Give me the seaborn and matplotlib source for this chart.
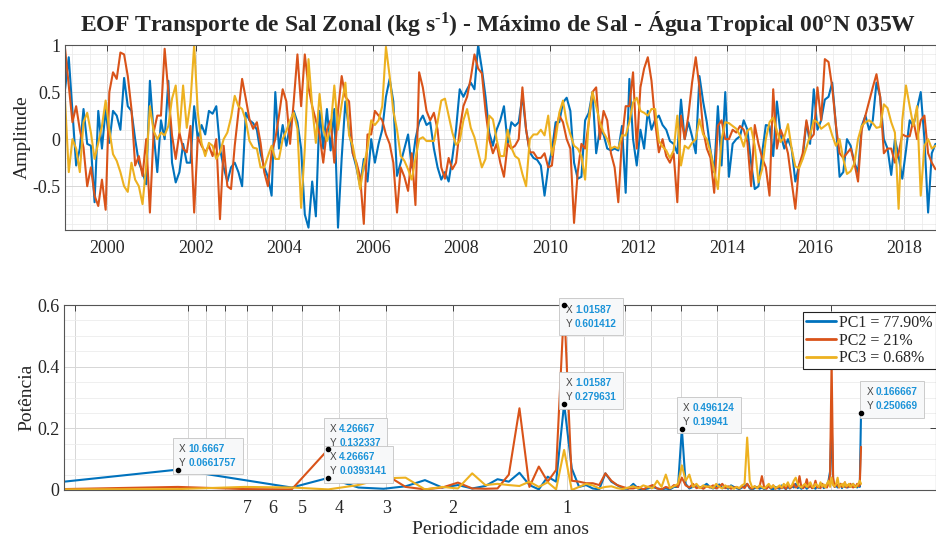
import numpy as np
import pandas as pd
import matplotlib
matplotlib.use("Agg")
import matplotlib.pyplot as plt
import seaborn as sns
from matplotlib.ticker import FixedLocator, FixedFormatter, MultipleLocator, NullLocator
from matplotlib.offsetbox import TextArea, HPacker, AnnotationBbox
from matplotlib.lines import Line2D

# ---------------- data: monthly EOF amplitudes (Jan 1999 .. Sep 2018) ----------------
start_year = 1999
pc1 = [
    0.53, 0.87, 0.30, -0.28, -0.10, 0.32, -0.05, -0.07, -0.67, 0.30, -0.10, 0.32,
    -0.04, 0.30, 0.25, 0.10, 0.65, 0.35, 0.30, 0.00, -0.25, -0.35, -0.48, 0.62,
    0.07, -0.35, 0.20, 0.00, 0.62, -0.25, -0.46, -0.35, -0.05, -0.25, -0.25, 0.35,
    0.00, 0.15, 0.05, 0.30, 0.27, 0.35, -0.10, -0.30, -0.45, -0.30, -0.25, -0.35,
    -0.50, 0.28, 0.20, 0.17, 0.10, -0.15, -0.30, -0.40, -0.60, 0.50, -0.10, 0.15,
    -0.07, 0.15, 0.30, 0.18, -0.10, -0.80, -0.94, -0.45, -0.82, 0.30, -0.10, 0.32,
    -0.12, 0.32, -0.94, -0.20, 0.40, 0.10, -0.15, -0.30, -0.50, -0.21, -0.45, 0.00,
    -0.25, -0.05, 0.10, 0.45, 0.64, 0.40, -0.39, -0.25, -0.10, 0.05, -0.30, 0.00,
    0.18, 0.25, 0.15, 0.18, -0.10, -0.30, -0.43, -0.35, -0.45, -0.20, 0.10, 0.53,
    0.45, 0.53, 0.60, 0.53, 1.00, 0.75, 0.45, 0.07, -0.07, 0.10, 0.20, 0.35,
    -0.05, 0.18, 0.14, 0.18, 0.46, 0.10, -0.14, -0.20, -0.22, -0.28, -0.60, -0.30,
    -0.12, 0.18, 0.18, 0.39, 0.44, 0.30, -0.25, -0.42, -0.40, 0.20, 0.28, 0.50,
    -0.15, 0.10, 0.05, -0.10, -0.12, -0.10, -0.12, 0.14, -0.57, 0.64, 0.00, -0.28,
    0.10, -0.10, 0.30, 0.10, 0.21, 0.25, 0.15, 0.10, -0.02, -0.05, -0.15, 0.42,
    0.00, 0.18, 0.03, -0.15, 0.67, 0.40, 0.18, -0.12, -0.35, 0.35, -0.28, 0.50,
    -0.40, -0.05, 0.00, 0.03, 0.20, 0.10, -0.25, -0.53, -0.50, -0.15, 0.15, 0.14,
    -0.18, 0.40, 0.05, -0.10, 0.00, -0.10, -0.45, -0.28, -0.20, 0.18, -0.05, 0.53,
    0.10, 0.20, 0.42, 0.45, 0.60, 0.15, -0.40, -0.35, 0.00, -0.07, -0.25, -0.35,
    0.14, 0.25, 0.10, 0.20, 0.60, 0.45, 0.00, -0.10, -0.38, 0.00, -0.18, -0.42,
    -0.12, 0.20, 0.14, 0.32, 0.50, 0.00, -0.78, -0.15, -0.05,
]
pc2 = [
    0.96, 0.57, 0.18, 0.35, 0.10, -0.09, -0.50, -0.30, -0.60, -0.71, -0.43, -0.75,
    0.50, 0.71, 0.64, 0.92, 0.90, 0.67, 0.32, -0.28, -0.18, -0.39, 0.00, -0.78,
    0.07, 0.25, 0.25, 0.96, 0.50, 0.04, -0.21, 0.07, -0.10, -0.14, 0.14, -0.78,
    0.02, -0.07, -0.14, -0.07, -0.18, 0.00, -0.85, -0.07, -0.50, -0.53, -0.07, 0.28,
    0.64, 0.43, 0.21, 0.11, 0.18, -0.04, -0.35, -0.50, -0.14, 0.00, 0.25, 0.53,
    0.40, -0.05, 0.40, 0.90, 0.35, 0.90, 0.55, 0.35, 0.20, 0.05, -0.25, 0.10,
    0.20, -0.25, 0.30, 0.67, 0.45, 0.40, -0.15, -0.25, -0.40, -0.90, 0.05, 0.05,
    0.30, 0.25, 0.20, 0.05, -0.05, -0.25, -0.78, -0.30, -0.40, -0.55, -0.15, -0.70,
    0.71, 0.55, 0.30, 0.20, 0.28, 0.10, -0.30, -0.42, -0.20, -0.32, -0.25, 0.10,
    0.35, 0.45, 0.65, 0.90, 0.75, 0.70, 0.30, 0.00, -0.15, -0.05, -0.25, -0.40,
    -0.05, -0.10, -0.07, 0.00, 0.55, 0.10, -0.14, -0.14, -0.20, -0.20, -0.15, -0.30,
    -0.28, 0.10, 0.25, 0.18, 0.00, -0.10, -0.89, -0.35, -0.05, -0.10, 0.18, 0.50,
    0.55, 0.00, 0.30, 0.20, -0.15, -0.30, -0.67, 0.00, 0.35, 0.35, 0.71, -0.10,
    0.55, 0.75, 0.87, 0.62, 0.18, -0.14, 0.00, -0.18, -0.25, -0.15, -0.67, 0.25,
    0.00, 0.25, 0.60, 0.87, 0.55, 0.10, -0.10, -0.20, -0.57, 0.14, 0.20, 0.00,
    0.00, 0.10, 0.07, 0.14, 0.10, -0.03, -0.50, 0.15, -0.05, -0.20, -0.30, -0.60,
    0.53, -0.10, 0.10, 0.00, -0.15, -0.45, -0.74, -0.28, -0.15, 0.20, 0.00, 0.05,
    0.55, 0.20, 0.85, 0.82, 0.55, 0.15, -0.15, -0.20, -0.15, -0.10, -0.25, -0.45,
    0.10, 0.25, 0.40, 0.55, 0.69, 0.45, -0.15, -0.10, -0.10, -0.25, -0.15, 0.05,
    0.03, 0.03, 0.20, 0.00, 0.20, 0.25, -0.15, -0.25, -0.32,
]
pc3 = [
    0.40, -0.35, 0.00, -0.10, -0.35, 0.18, 0.28, 0.07, -0.21, -0.04, 0.14, 0.41,
    0.10, -0.16, -0.23, -0.35, -0.50, -0.56, -0.25, -0.43, -0.50, -0.69, -0.28, 0.35,
    0.09, 0.00, 0.07, 0.04, 0.14, 0.43, 0.57, 0.07, 0.57, 0.12, 0.39, 1.00,
    0.28, -0.04, -0.18, -0.04, -0.07, -0.21, -0.14, 0.00, 0.07, 0.23, 0.46, 0.35,
    0.32, 0.20, -0.02, -0.09, -0.10, -0.30, -0.30, -0.18, -0.07, -0.21, -0.21, 0.00,
    0.09, 0.20, 0.28, 0.11, -0.73, -0.10, 0.85, 0.35, -0.04, 0.48, 0.10, -0.02,
    0.12, 0.57, 0.10, 0.37, 0.60, 0.04, -0.07, -0.28, -0.53, -0.28, -0.10, 0.20,
    0.15, 0.20, 0.35, 0.98, 0.67, 0.30, 0.10, -0.18, -0.23, -0.32, -0.43, -0.21,
    0.00, 0.02, -0.02, -0.02, -0.02, 0.18, 0.41, 0.43, 0.25, 0.07, -0.06, -0.02,
    0.20, 0.32, 0.12, 0.02, -0.14, -0.30, -0.21, 0.25, 0.21, 0.00, -0.18, -0.18,
    0.10, -0.09, -0.18, -0.21, -0.37, -0.50, 0.00, 0.05, 0.05, 0.10, 0.04, 0.25,
    -0.17, 0.00, 0.28, 0.41, 0.18, 0.05, -0.07, -0.10, -0.18, -0.43, 0.21, 0.50,
    0.35, 0.18, 0.07, 0.00, -0.10, -0.08, -0.10, 0.04, 0.04, 0.18, 0.39, 0.44,
    0.30, 0.28, 0.25, 0.32, 0.32, -0.02, -0.08, -0.12, -0.20, -0.12, 0.25, -0.28,
    -0.07, -0.10, -0.04, 0.00, 0.21, 0.05, 0.00, -0.14, -0.34, -0.53, 0.00, 0.18,
    0.17, 0.14, 0.11, 0.04, -0.08, 0.09, 0.12, -0.07, -0.46, -0.32, 0.00, 0.18,
    0.23, 0.09, -0.03, 0.02, 0.16, -0.10, -0.29, -0.31, -0.21, -0.09, 0.04, 0.20,
    0.18, 0.11, 0.14, 0.17, 0.04, -0.07, 0.00, -0.21, -0.37, -0.34, -0.26, 0.00,
    0.14, 0.18, 0.20, 0.17, 0.12, 0.13, 0.37, 0.33, 0.18, 0.07, -0.74, 0.20,
    0.57, 0.35, 0.14, 0.35, -0.60, -0.07, 0.00, -0.10, -0.07,
]

# ---------------- data: periodogram power, harmonics k = 1..128 of a 256-month FFT ----------------
n_fft = 256
pow1 = [
    0.027, 0.0661757, 0.032, 0.008, 0.0393141, 0.008, 0.004, 0.012, 0.032, 0.008,
    0.016, 0.005, 0.013, 0.035, 0.027, 0.056, 0.016, 0.002, 0.043, 0.027,
    0.279631, 0.07, 0.01, 0.016, 0.005, 0.002, 0.054, 0.027, 0.016, 0.005,
    0.004, 0.02, 0.004, 0.002, 0.005, 0.01, 0.005, 0.002, 0.005, 0.002,
    0.01, 0.01, 0.19941, 0.02, 0.005, 0.01, 0.015, 0.008, 0.012, 0.02,
    0.01, 0.005, 0.012, 0.018, 0.006, 0.01, 0.004, 0.015, 0.01, 0.006,
    0.003, 0.008, 0.012, 0.02, 0.005, 0.002, 0.006, 0.01, 0.004, 0.008,
    0.003, 0.007, 0.012, 0.004, 0.002, 0.01, 0.006, 0.004, 0.015, 0.008,
    0.003, 0.01, 0.005, 0.012, 0.008, 0.02, 0.006, 0.01, 0.004, 0.008,
    0.012, 0.004, 0.01, 0.015, 0.006, 0.009, 0.004, 0.012, 0.007, 0.01,
    0.02, 0.006, 0.01, 0.015, 0.03, 0.06, 0.23, 0.03, 0.01, 0.015,
    0.008, 0.012, 0.02, 0.006, 0.015, 0.01, 0.012, 0.008, 0.018, 0.01,
    0.015, 0.02, 0.01, 0.012, 0.008, 0.015, 0.01, 0.250669,
]
pow2 = [
    0.003, 0.01, 0.003, 0.002, 0.132337, 0.02, 0.054, 0.01, 0.002, 0.008,
    0.024, 0.005, 0.004, 0.005, 0.05, 0.265, 0.01, 0.076, 0.027, 0.065,
    0.601412, 0.03, 0.027, 0.022, 0.022, 0.016, 0.054, 0.03, 0.016, 0.01,
    0.005, 0.005, 0.01, 0.002, 0.01, 0.016, 0.005, 0.002, 0.01, 0.005,
    0.016, 0.01, 0.04, 0.015, 0.008, 0.02, 0.006, 0.01, 0.004, 0.012,
    0.008, 0.015, 0.005, 0.01, 0.02, 0.006, 0.012, 0.004, 0.008, 0.01,
    0.005, 0.012, 0.006, 0.02, 0.008, 0.004, 0.012, 0.006, 0.01, 0.045,
    0.008, 0.004, 0.012, 0.006, 0.015, 0.004, 0.008, 0.01, 0.006, 0.012,
    0.004, 0.018, 0.006, 0.01, 0.02, 0.008, 0.012, 0.045, 0.01, 0.006,
    0.012, 0.035, 0.008, 0.015, 0.006, 0.01, 0.03, 0.008, 0.012, 0.006,
    0.02, 0.01, 0.015, 0.008, 0.02, 0.05, 0.42, 0.04, 0.01, 0.02,
    0.015, 0.008, 0.02, 0.01, 0.012, 0.025, 0.008, 0.015, 0.01, 0.02,
    0.012, 0.008, 0.015, 0.01, 0.02, 0.012, 0.015, 0.14,
]
pow3 = [
    0.002, 0.003, 0.01, 0.008, 0.002, 0.016, 0.038, 0.04, 0.002, 0.01,
    0.005, 0.054, 0.016, 0.02, 0.016, 0.013, 0.027, 0.01, 0.025, 0.002,
    0.13, 0.0, 0.01, 0.02, 0.015, 0.005, 0.01, 0.012, 0.006, 0.003,
    0.008, 0.012, 0.005, 0.015, 0.01, 0.006, 0.03, 0.01, 0.05, 0.006,
    0.012, 0.02, 0.08, 0.03, 0.05, 0.01, 0.02, 0.006, 0.015, 0.01,
    0.012, 0.006, 0.02, 0.01, 0.005, 0.015, 0.008, 0.012, 0.004, 0.01,
    0.006, 0.015, 0.02, 0.17, 0.03, 0.008, 0.012, 0.006, 0.015, 0.01,
    0.005, 0.012, 0.02, 0.008, 0.015, 0.006, 0.01, 0.015, 0.008, 0.02,
    0.012, 0.025, 0.01, 0.015, 0.03, 0.04, 0.02, 0.012, 0.008, 0.015,
    0.02, 0.01, 0.015, 0.025, 0.012, 0.008, 0.02, 0.015, 0.01, 0.025,
    0.012, 0.018, 0.008, 0.02, 0.03, 0.01, 0.04, 0.015, 0.012, 0.02,
    0.04, 0.01, 0.015, 0.02, 0.01, 0.025, 0.012, 0.015, 0.02, 0.01,
    0.015, 0.02, 0.012, 0.01, 0.015, 0.02, 0.03, 0.02,
]

series_names = ["PC1", "PC2", "PC3"]
legend_labels = ["PC1 = 77.90%", "PC2 = 21%", "PC3 = 0.68%"]
colors = ["#0072BD", "#D95319", "#EDB120"]

year_ticks = [2000, 2002, 2004, 2006, 2008, 2010, 2012, 2014, 2016, 2018]
amp_ticks = [-0.5, 0, 0.5, 1]
amp_labels = ["-0.5", "0", "0.5", "1"]
period_ticks = [20, 10, 9, 8, 7, 6, 5, 4, 3, 2, 1, 0.9, 0.8, 0.7, 0.6, 0.5, 0.4, 0.3, 0.2]
period_labels = ["", "", "", "", "7", "6", "5", "4", "3", "2", "1",
                 "", "", "", "", "", "", "", ""]
pow_ticks = [0, 0.2, 0.4, 0.6]
pow_labels = ["0", "0.2", "0.4", "0.6"]

# data tips: (series index, harmonic k, anchor alignment, offset in points)
tips = [
    (0, 2, (0, 0), (1, 1)),
    (1, 5, (0, 0), (1, 1)),
    (0, 5, (0, 0), (1, 1)),
    (1, 21, (0, 1), (1, 0)),
    (0, 21, (0, 0), (1, 1)),
    (0, 43, (0, 0), (1, 1)),
    (0, 128, (0, 0), (4, 1)),
]

# ---------------- tables ----------------
n_months = len(pc1)
months = np.arange(n_months)
time = start_year + (months + 0.5) / 12.0
df_ts = pd.concat([
    pd.DataFrame({"time": time, "amp": vals, "PC": name})
    for name, vals in zip(series_names, [pc1, pc2, pc3])
], ignore_index=True)

k = np.arange(1, len(pow1) + 1)
period = n_fft / (12.0 * k)
pows = [pow1, pow2, pow3]
df_p = pd.concat([
    pd.DataFrame({"period": period, "power": vals, "PC": name})
    for name, vals in zip(series_names, pows)
], ignore_index=True)

# ---------------- style ----------------
sns.set_style("white")
plt.rcParams["font.family"] = ["Liberation Serif", "DejaVu Serif"]
plt.rcParams["mathtext.fontset"] = "custom"
plt.rcParams["mathtext.rm"] = "Liberation Serif:bold"
plt.rcParams["mathtext.it"] = "Liberation Serif:bold"
plt.rcParams["mathtext.bf"] = "Liberation Serif:bold"

W, H = 936, 538
fig = plt.figure(figsize=(W / 100, H / 100), dpi=100)
ax1 = fig.add_axes([65 / W, 1 - 230 / H, (W - 65) / W, 185 / H])
ax2 = fig.add_axes([64 / W, 1 - 490 / H, (W - 64) / W, 185 / H])

axis_color = "#262626"


def style_axes(ax):
    ax.set_axisbelow(True)
    ax.grid(which="major", color="#d6d6d6", lw=0.7)
    ax.grid(which="minor", color="#ececec", lw=0.6)
    ax.tick_params(which="major", direction="in", top=True, right=True,
                   length=4, width=0.6, color=axis_color, labelcolor=axis_color,
                   labelsize=13)
    ax.tick_params(which="minor", length=0)
    for s in ax.spines.values():
        s.set_color("#555555")
        s.set_linewidth(0.8)


# ---------------- top panel ----------------
sns.lineplot(data=df_ts, x="time", y="amp", hue="PC", palette=colors,
             lw=1.5, legend=False, estimator=None, ax=ax1)
ax1.set_xlim(1999.04, 2018.72)
ax1.set_ylim(-0.965, 1.0)
ax1.xaxis.set_major_locator(FixedLocator(year_ticks))
ax1.xaxis.set_major_formatter(FixedFormatter([str(y) for y in year_ticks]))
ax1.xaxis.set_minor_locator(MultipleLocator(0.4))
ax1.yaxis.set_major_locator(FixedLocator(amp_ticks))
ax1.yaxis.set_major_formatter(FixedFormatter(amp_labels))
ax1.yaxis.set_minor_locator(MultipleLocator(0.1))
style_axes(ax1)
ax1.tick_params(axis="x", pad=7)
ax1.set_xlabel("")
ax1.set_ylabel("Amplitude", fontsize=14, color=axis_color, labelpad=1)
ax1.set_title(r"EOF Transporte de Sal Zonal (kg s$^{\text{-1}}$) - Máximo de Sal - Água Tropical 00°N 035W",
              fontsize=17, fontweight="bold", pad=10, x=0.497)

# ---------------- bottom panel ----------------
ax2.set_xscale("log")
sns.lineplot(data=df_p, x="period", y="power", hue="PC", palette=colors,
             lw=1.5, legend=False, estimator=None, ax=ax2)
ax2.set_xscale("log")
ax2.set_xlim(n_fft / 12.0, 0.1056)
ax2.set_ylim(0, 0.6)
ax2.xaxis.set_major_locator(FixedLocator(period_ticks))
ax2.xaxis.set_major_formatter(FixedFormatter(period_labels))
ax2.xaxis.set_minor_locator(NullLocator())
ax2.yaxis.set_major_locator(FixedLocator(pow_ticks))
ax2.yaxis.set_major_formatter(FixedFormatter(pow_labels))
ax2.yaxis.set_minor_locator(MultipleLocator(0.05))
style_axes(ax2)
ax2.tick_params(axis="x", pad=7)
ax2.set_xlabel("Periodicidade em anos", fontsize=14, color=axis_color, labelpad=3)
ax2.set_ylabel("Potência", fontsize=14, color=axis_color, labelpad=1)

handles = [Line2D([0], [0], color=c, lw=2) for c in colors]
leg = ax2.legend(handles, legend_labels, loc="upper right", bbox_to_anchor=(0.9995, 0.963),
                 frameon=True, fancybox=False, edgecolor="#222222", framealpha=1,
                 fontsize=11.5, handlelength=1.9, handletextpad=0.15, borderpad=0.2,
                 labelspacing=0.1, borderaxespad=0)
leg.get_frame().set_linewidth(0.8)

for z, (si, kk, align, off) in enumerate(tips):
    xv = period[kk - 1]
    yv = pows[si][kk - 1]
    t1 = TextArea("X\nY", textprops=dict(color="#444444", fontsize=7.2,
                                          family="Liberation Sans", linespacing=1.5))
    t2 = TextArea(f"{xv:.6g}\n{yv:.6g}",
                  textprops=dict(color="#1b93d8", fontsize=7.2, family="Liberation Sans",
                                 weight="bold", linespacing=1.5))
    pack = HPacker(children=[t1, t2], align="center", pad=0, sep=2)
    ab = AnnotationBbox(pack, (xv, yv), xybox=off, xycoords="data",
                        boxcoords="offset points", box_alignment=align,
                        frameon=True, pad=0.45, annotation_clip=False,
                        bboxprops=dict(boxstyle="square,pad=0.45", fc="#f7f8f9",
                                       ec="#c4c4c4", lw=0.6), zorder=6 + 0.01 * z)
    ax2.add_artist(ab)
    ax2.plot([xv], [yv], "o", color="black", ms=3, zorder=8, clip_on=False)

fig.savefig("out.png", dpi=100)
